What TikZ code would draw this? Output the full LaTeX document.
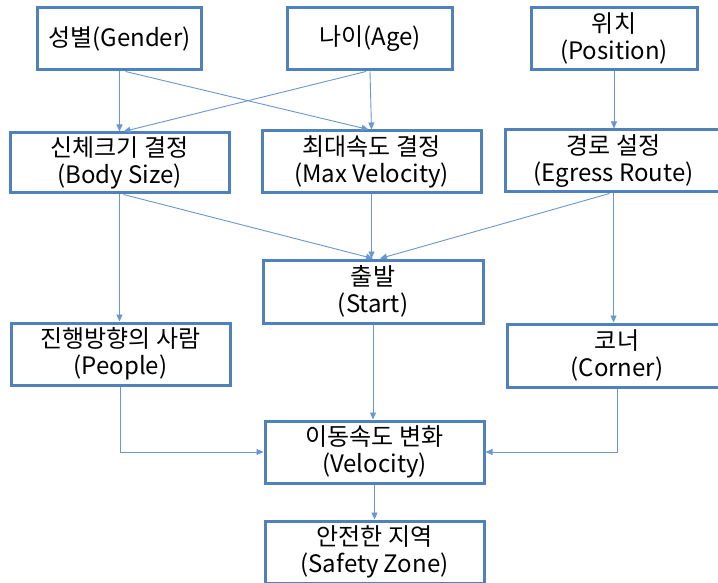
\documentclass[tikz,border=0pt]{standalone}
\usepackage{fontspec}
\setmainfont{Noto Sans CJK KR}
\usetikzlibrary{arrows.meta}
\definecolor{boxblue}{HTML}{4F81BD}
\definecolor{lineblue}{HTML}{6A97CF}
\begin{document}
\begin{tikzpicture}[x=1pt,y=-1pt,
  box/.style={draw=boxblue, line width=3pt, fill=white, align=center, inner sep=0pt,
    font=\fontsize{24}{27}\selectfont},
  conn/.style={draw=lineblue, line width=0.9pt, -{Triangle[length=7pt,width=6pt]}}]
\useasboundingbox (0,0) rectangle (718,583);
\clip (0,0) rectangle (718,583);
\fill[white] (0,0) rectangle (718,583);
% row 1
\node[box, minimum width=164pt, minimum height=62pt] (gender) at (119.5,39) {성별(Gender)};
\node[box, minimum width=165pt, minimum height=62pt] (age) at (370,39) {나이(Age)};
\node[box, minimum width=166pt, minimum height=62pt] (pos) at (614,38.5) {위치\\(Position)};
% row 2
\node[box, minimum width=219pt, minimum height=60pt] (body) at (119.5,163) {신체크기 결정\\(Body Size)};
\node[box, minimum width=219pt, minimum height=62pt] (maxv) at (371.5,162) {최대속도 결정\\(Max Velocity)};
\node[box, minimum width=217pt, minimum height=62pt] (egress) at (613.5,161) {경로 설정\\(Egress Route)};
% row 3
\node[box, minimum width=220pt, minimum height=63pt] (start) at (373,291.5) {출발\\(Start)};
\node[box, minimum width=219pt, minimum height=62pt] (people) at (120.5,354) {진행방향의 사람\\(People)};
\node[box, minimum width=220pt, minimum height=63pt] (corner) at (617,355.5) {코너\\(Corner)};
% row 4
\node[box, minimum width=219pt, minimum height=62pt] (vel) at (374.5,452) {이동속도 변화\\(Velocity)};
\node[box, minimum width=219pt, minimum height=62pt] (safe) at (374.5,552) {안전한 지역\\(Safety Zone)};
% connectors
\draw[conn] (gender.south) -- (body.north);
\draw[conn] ([xshift=6pt]gender.south) -- ([xshift=-3pt]maxv.north);
\draw[conn] ([xshift=-4pt]age.south) -- ([xshift=4pt]body.north);
\draw[conn] (age.south) -- (maxv.north);
\draw[conn] (pos.south) -- (pos.south |- egress.north);
\draw[conn] (body.south) -- (body.south |- people.north);
\draw[conn] ([xshift=4pt]body.south) -- (start.north);
\draw[conn] (maxv.south) -- (maxv.south |- start.north);
\draw[conn] ([xshift=-4pt]egress.south) -- ([xshift=7pt]start.north);
\draw[conn] (egress.south) -- (egress.south |- corner.north);
\draw[conn] (start.south) -- (start.south |- vel.north);
\draw[conn] (people.south) |- (vel.west);
\draw[conn] (corner.south) |- (vel.east);
\draw[conn] (vel.south) -- (safe.north);
\end{tikzpicture}
\end{document}
